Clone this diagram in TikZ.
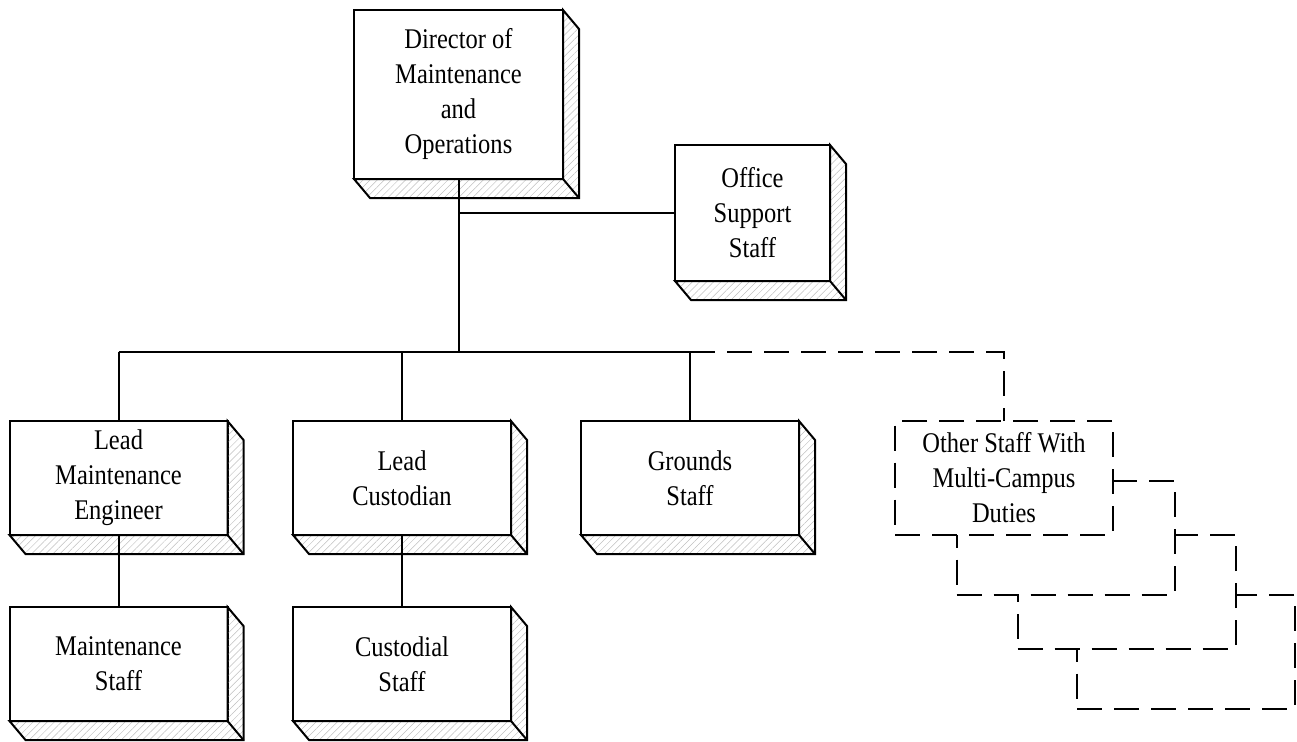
\documentclass[tikz,border=0pt]{standalone}
\usepackage{fontspec}
\setmainfont{Liberation Serif}[FakeStretch=0.86]
\usetikzlibrary{patterns.meta}

% hatched depth of a box
\newcommand{\depthface}[1]{%
  \filldraw[pattern={Lines[angle=45,distance=5pt,line width=0.5pt]},pattern color=gray!50,line width=2pt]
    (#1.north east) -- ([shift={(16,19)}]#1.north east) --
    ([shift={(16,19)}]#1.south east) -- ([shift={(16,19)}]#1.south west) --
    (#1.south west) -- (#1.south east) -- cycle;
  \draw[line width=2pt] (#1.south east) -- ([shift={(16,19)}]#1.south east);
}

\begin{document}
\begin{tikzpicture}[x=1pt,y=-1pt,
  box/.style={draw,fill=white,line width=2pt,outer sep=0pt,align=center,
    minimum width=218pt,minimum height=114pt,font=\fontsize{28.5}{35}\selectfont},
  otherbox/.style={box,dash pattern=on 25pt off 12pt},
  link/.style={line width=2pt}]
\useasboundingbox (0,0) rectangle (1297,741);

% \draw boxes
\node[box,minimum width=209pt,minimum height=169pt] (dir) at (458.5,94.5)
  {Director of\\Maintenance\\and\\Operations};
\node[box,minimum width=155pt,minimum height=136pt] (ofs) at (752.5,213)
  {Office\\Support\\Staff};
\node[box] (lme) at (118.5,478) {Lead\\Maintenance\\Engineer};
\node[box] (lcu) at (402,478) {Lead\\Custodian};
\node[box] (grd) at (690,478) {Grounds\\Staff};
\node[box] (mst) at (118.5,664) {Maintenance\\Staff};
\node[box] (cst) at (402,664) {Custodial\\Staff};

\foreach \b in {dir,ofs,lme,lcu,grd,mst,cst} {
  \depthface{\b}
}

% \draw dashed stack
\node[otherbox] (oth4) at (1186,651.5) {};
\node[otherbox] (oth3) at (1126.5,592) {};
\node[otherbox] (oth2) at (1065.5,537.5) {};
\node[otherbox] (oth1) at (1004,477.5) {Other Staff With\\Multi-Campus\\Duties};

% \draw lines
\coordinate (bus) at (458.5,352);
\draw[link] (dir.south) -- (bus);
\draw[link] (dir.south |- ofs.west) -- (ofs.west);
\draw[link] (lme.north |- bus) -- (grd.north |- bus);
\draw[link] (lme.north |- bus) -- (lme.north);
\draw[link] (lcu.north |- bus) -- (lcu.north);
\draw[link] (grd.north |- bus) -- (grd.north);
\draw[link,dash pattern=on 25pt off 12pt] (grd.north |- bus) -- (oth1.north |- bus) -- (oth1.north);
\draw[link] (lme.south) -- (mst.north);
\draw[link] (lcu.south) -- (cst.north);

\end{tikzpicture}
\end{document}
